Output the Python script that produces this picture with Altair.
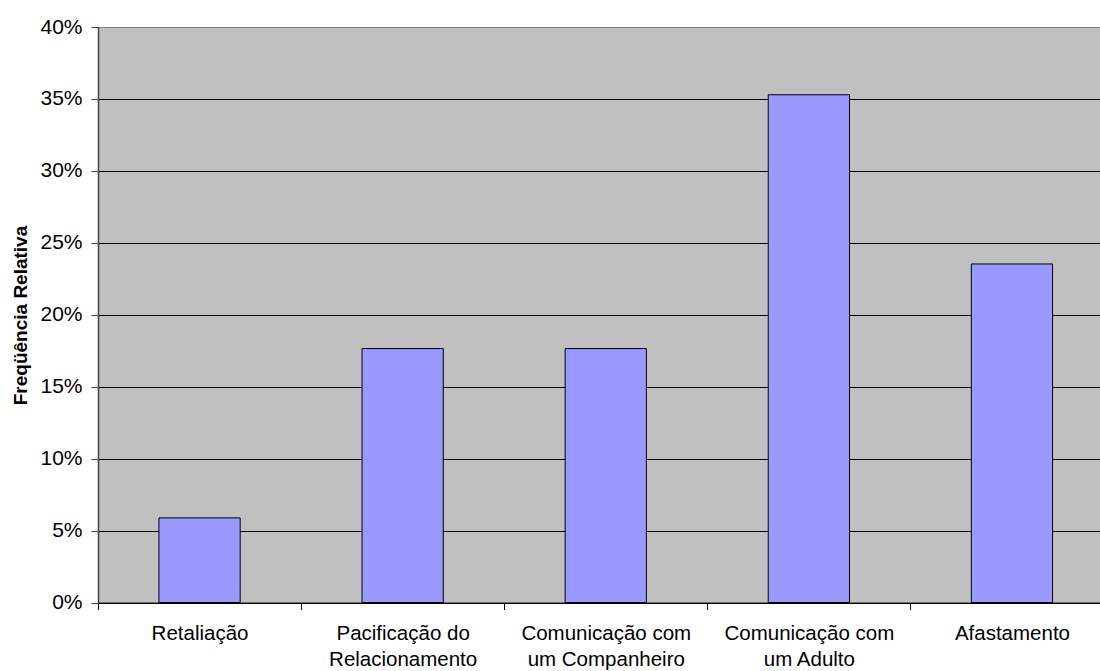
import altair as alt
import pandas as pd

# Category labels (line break marks where the axis label wraps)
categories = [
    "Retaliação",
    "Pacificação do\nRelacionamento",
    "Comunicação com\num Companheiro",
    "Comunicação com\num Adulto",
    "Afastamento",
]
# Relative frequency of each strategy
frequencies = [0.0588, 0.1765, 0.1765, 0.3529, 0.2353]
y_ticks = [0.0, 0.05, 0.10, 0.15, 0.20, 0.25, 0.30, 0.35, 0.40]

df = pd.DataFrame({"categoria": categories, "freq": frequencies})

font = "Liberation Sans"

# The plot area runs past the right edge of the page, so the band scale
# gets a range wider than the visible width.
band_range = [0, 1015.5]

bars = (
    alt.Chart(df)
    .mark_bar(
        width=alt.RelativeBandSize(0.4),
        fill="#9999FF",
        stroke="#000000",
        strokeWidth=1,
    )
    .encode(
        x=alt.X(
            "categoria:N",
            sort=categories,
            scale=alt.Scale(paddingInner=0, paddingOuter=0, range=band_range),
            axis=alt.Axis(
                title=None,
                labelAngle=0,
                labelExpr="split(datum.label, '\\n')",
                labelFont=font,
                labelFontSize=20.5,
                labelColor="#000000",
                labelLineHeight=26,
                labelPadding=14,
                tickBand="extent",
                tickSize=7,
                tickColor="#000000",
                domainColor="#000000",
                grid=False,
            ),
        ),
        y=alt.Y(
            "freq:Q",
            scale=alt.Scale(domain=[0, 0.4], nice=False),
            axis=alt.Axis(
                title="Freqüência Relativa",
                values=y_ticks,
                format=".0%",
                labelFont=font,
                labelFontSize=21,
                labelColor="#000000",
                labelPadding=9,
                tickSize=7,
                tickColor="#404040",
                domainColor="#404040",
                domainWidth=1.5,
                grid=True,
                gridColor={
                    "condition": {"test": "datum.value >= 0.4", "value": "#808080"},
                    "value": "#000000",
                },
                gridWidth=1,
                titleFont=font,
                titleFontSize=19,
                titleFontWeight="bold",
                titleColor="#000000",
                titleAngle=270,
                titleX=-78,
                titleY=288,
                titleAlign="center",
                titleBaseline="middle",
            ),
        ),
    )
)

chart = (
    bars.properties(
        width=1002,
        height=575.5,
        autosize=alt.AutoSizeParams(type="none"),
        padding={"left": 98, "top": 27, "right": 0, "bottom": 68.5},
        background="#FFFFFF",
    )
    .configure_view(fill="#C0C0C0", strokeWidth=0)
)

chart.save("out.html", embed_options={"renderer": "svg", "actions": False})
